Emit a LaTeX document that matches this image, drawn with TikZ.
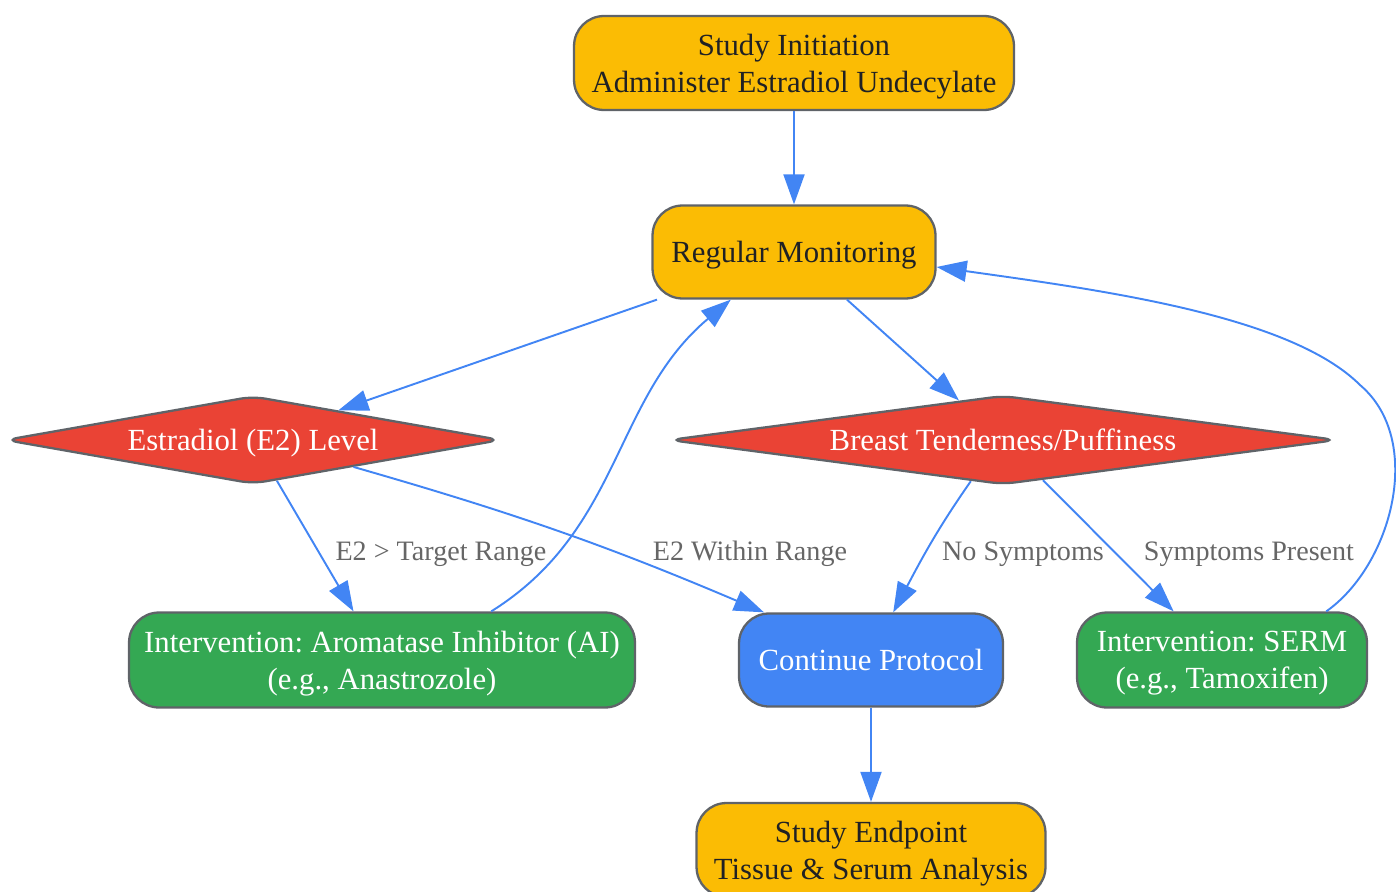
\documentclass[tikz,border=0pt]{standalone}
\usepackage{fontspec}
\setmainfont{Liberation Serif}
\frenchspacing
\usetikzlibrary{arrows.meta,shapes.geometric}
\definecolor{gyellow}{HTML}{FBBC04}
\definecolor{gred}{HTML}{EA4335}
\definecolor{ggreen}{HTML}{34A853}
\definecolor{gblue}{HTML}{4285F4}
\definecolor{gborder}{HTML}{5F6368}
\definecolor{gtext}{HTML}{202124}
\definecolor{glabel}{HTML}{666666}
\begin{document}
\begin{tikzpicture}[x=0.02cm,y=-0.02cm]
        \tikzset{
            stepbox/.style={draw=gborder,line width=1.3pt,rounded corners=0.6cm,align=center,
                inner sep=0pt,text depth=0pt,font=\fontsize{17.5}{21}\selectfont},
            yellowbox/.style={stepbox,fill=gyellow,text=gtext},
            greenbox/.style={stepbox,fill=ggreen,text=white},
            bluebox/.style={stepbox,fill=gblue,text=white},
            decision/.style={diamond,draw=gborder,line width=1.3pt,fill=gred,text=white,
                rounded corners=0.25cm,inner sep=0pt,aspect=6,text depth=0pt,
                font=\fontsize{17.5}{21}\selectfont},
            flow/.style={-{Triangle[length=0.6cm,width=0.42cm]},line width=1.1pt,color=gblue},
            edgelabel/.style={text=glabel,text depth=0pt,font=\fontsize{16}{19}\selectfont}
        }
        \useasboundingbox (0,0) rectangle (1396,892);
        % nodes
        \node[yellowbox,minimum width=8.8cm,minimum height=1.88cm] (init) at (794,63) {Study Initiation\\Administer Estradiol Undecylate};
        \node[yellowbox,minimum width=5.66cm,minimum height=1.86cm] (mon) at (794,252) {Regular Monitoring};
        \node[decision,minimum width=9.92cm,minimum height=1.76cm] (e2) at (253,440) {Estradiol (E2) Level};
        \node[decision,minimum width=13.36cm,minimum height=1.78cm] (breast) at (1003,440) {Breast Tenderness/Puffiness};
        \node[greenbox,minimum width=10.12cm,minimum height=1.9cm] (ai) at (382,660) {Intervention: Aromatase Inhibitor (AI)\\(e.g., Anastrozole)};
        \node[bluebox,minimum width=5.28cm,minimum height=1.86cm] (cont) at (871,660) {Continue Protocol};
        \node[greenbox,minimum width=5.8cm,minimum height=1.9cm] (serm) at (1222,660) {Intervention: SERM\\(e.g., Tamoxifen)};
        \node[yellowbox,minimum width=6.98cm,minimum height=1.88cm] (endp) at (871,850) {Study Endpoint\\Tissue \& Serum Analysis};
        % connectors
        \draw[flow] (init) -- (mon);
        \draw[flow] (mon) -- (e2);
        \draw[flow] (mon) -- (breast);
        \draw[flow] (e2) -- (ai);
        \draw[flow] (e2.-15) to[out=-16,in=157] (cont.156);
        \draw[flow] (ai.24) to[out=32,in=220] (mon.217);
        \draw[flow] (breast.232) to[out=235,in=62] (cont.65);
        \draw[flow] (breast) -- (serm);
        \draw[flow] (serm.25) .. controls (1392,565) and (1425,440) .. (1360,385)
            .. controls (1290,315) and (1100,290) .. (mon.-6);
        \draw[flow] (cont) -- (endp);
        % labels
        \node[edgelabel] (lhigh) at (441,551) {E2 > Target Range};
        \node[edgelabel] (lwithin) at (750,551) {E2 Within Range};
        \node[edgelabel] (lnone) at (1023,551) {No Symptoms};
        \node[edgelabel] (lsymp) at (1249,551) {Symptoms Present};
    \end{tikzpicture}
\end{document}
